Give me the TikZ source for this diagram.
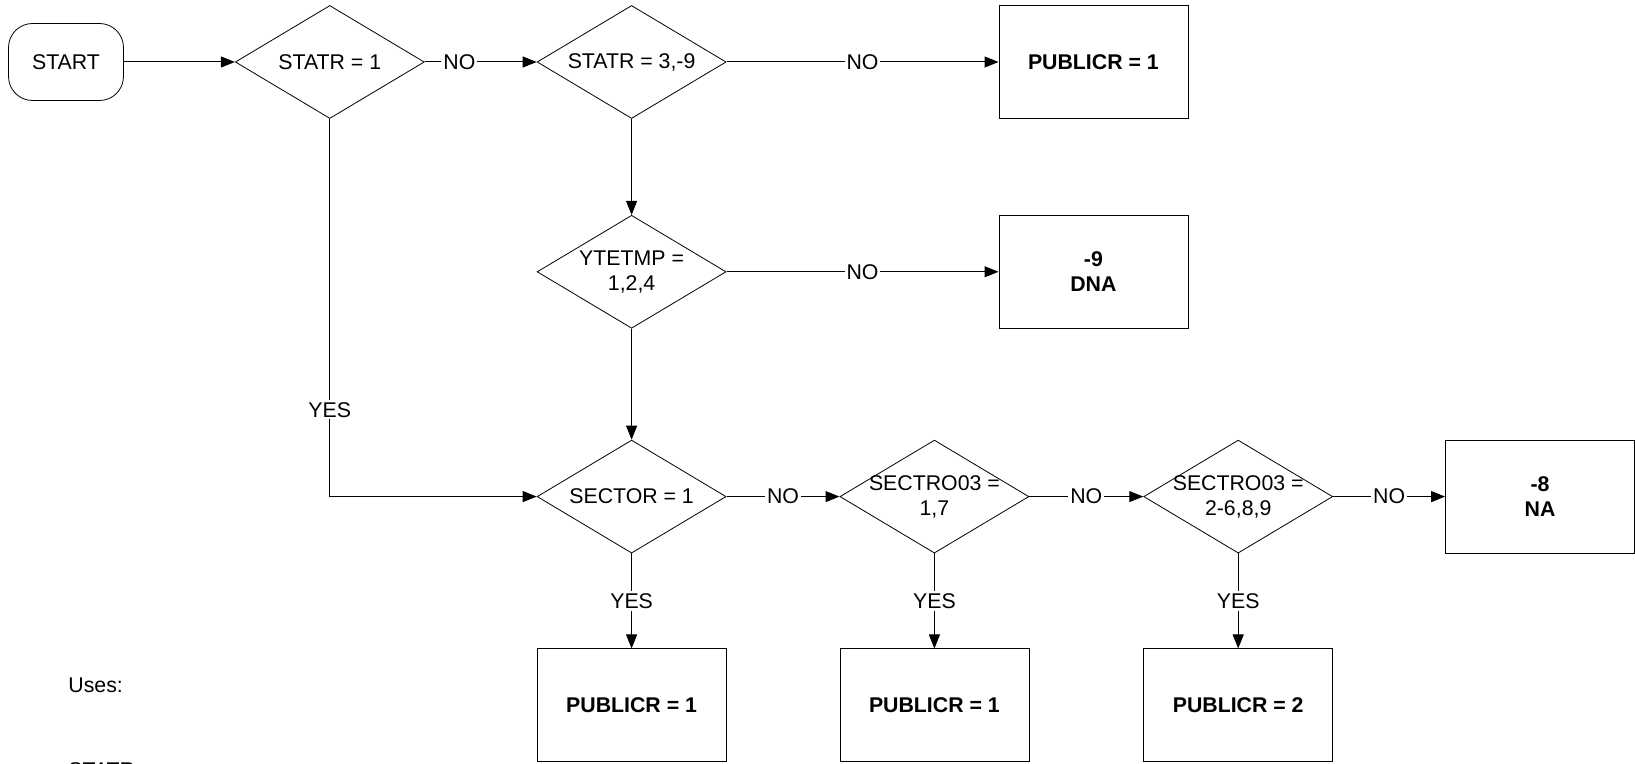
\documentclass[tikz,border=0pt]{standalone}
\usepackage{fontspec}
\setmainfont{Liberation Sans}
\usetikzlibrary{arrows.meta, positioning, shapes.geometric}
\tikzset{every node/.style={font=\fontsize{10.65}{12.5}\selectfont}}
\newcommand{\nowd}[1]{\makebox[0pt]{#1}}

\begin{document}
\begin{tikzpicture}[
  x=0.5pt, y=-0.5pt,
  node distance=55.5pt,
  termnode/.style={draw, rounded corners=12pt, minimum width=57.5pt, minimum height=38.5pt, inner sep=0pt},
  decnode/.style={draw, diamond, minimum width=94.5pt, minimum height=56.5pt, inner sep=0pt, align=center},
  outnode/.style={draw, minimum width=94.5pt, minimum height=56.5pt, inner sep=0pt, align=center, font=\fontsize{10.65}{12.5}\selectfont\bfseries},
  flow/.style={-{Triangle[length=7pt, width=5.5pt]}, line width=0.5pt},
  answer/.style={fill=white, inner sep=1pt}
]
  \useasboundingbox (0,0) rectangle (1635,764);
  \node[termnode] (start) at (66,62) {START};
  \node[decnode, right=of start] (statr1) {\nowd{STATR = 1}};
  \node[decnode, right=56pt of statr1] (statr39) {\nowd{STATR = 3,-9}};
  \node[outnode, right=136pt of statr39] (pubtop) {PUBLICR = 1};
  \node[decnode, below=48pt of statr39] (ytetmp) {\nowd{YTETMP =}\\\nowd{1,2,4}};
  \node[outnode, right=136pt of ytetmp] (dna) {-9\\DNA};
  \node[decnode, below=of ytetmp] (sector) {\nowd{SECTOR = 1}};
  \node[decnode, right=56.5pt of sector] (secone) {\nowd{SECTRO03 =}\\\nowd{1,7}};
  \node[decnode, right=57pt of secone] (sectwo) {\nowd{SECTRO03 =}\\\nowd{2-6,8,9}};
  \node[outnode, right=56pt of sectwo] (na) {-8\\NA};
  \node[outnode, below=47.5pt of sector] (pubsec) {PUBLICR = 1};
  \node[outnode, below=47.5pt of secone] (pubone) {PUBLICR = 1};
  \node[outnode, below=47.5pt of sectwo] (pubtwo) {PUBLICR = 2};
  \node[anchor=west, inner sep=0pt] (uses) at (68,685) {Uses:};
  \node[anchor=west, inner sep=0pt] (usesstatr) at (68,770) {STATR};

  \draw[flow] (start) -- (statr1);
  \draw[flow] (statr1) -- node[answer, pos=0.31] {NO} (statr39);
  \draw[flow] (statr39) -- node[answer] {NO} (pubtop);
  \draw[flow] (statr39) -- (ytetmp);
  \draw[flow] (ytetmp) -- node[answer] {NO} (dna);
  \draw[flow] (ytetmp) -- (sector);
  \draw[flow] (statr1.south) |- node[answer, pos=0.385] {YES} (sector.west);
  \draw[flow] (sector) -- node[answer] {NO} (secone);
  \draw[flow] (secone) -- node[answer] {NO} (sectwo);
  \draw[flow] (sectwo) -- node[answer] {NO} (na);
  \draw[flow] (sector) -- node[answer] {YES} (pubsec);
  \draw[flow] (secone) -- node[answer] {YES} (pubone);
  \draw[flow] (sectwo) -- node[answer] {YES} (pubtwo);
\end{tikzpicture}
\end{document}
